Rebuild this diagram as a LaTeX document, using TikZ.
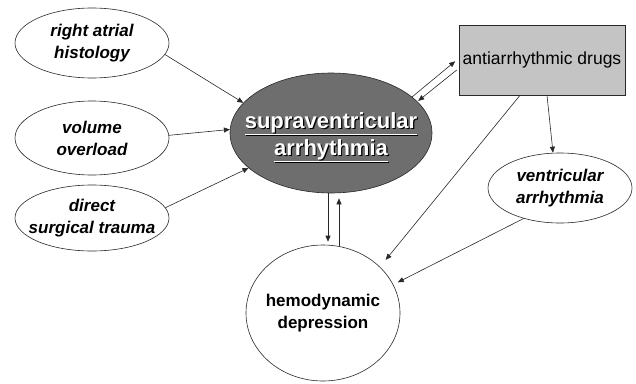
\documentclass[tikz,border=0pt]{standalone}
\usepackage{fontspec}
\setmainfont{Liberation Sans}
\usetikzlibrary{shapes.geometric,arrows.meta}
\definecolor{svfill}{RGB}{110,110,110}
\definecolor{adfill}{RGB}{196,196,196}
\definecolor{lncol}{RGB}{40,40,40}
\newcommand\svlabel{\underline{supraventricular}\\\underline{arrhythmia}}
\begin{document}
\begin{tikzpicture}[x=1pt,y=-1pt,
  oval/.style={draw=lncol, ellipse, inner sep=0pt, line width=0.6pt, fill=white},
  ovtext/.style={font=\fontsize{17}{22}\selectfont\bfseries\itshape, align=center, inner sep=0pt},
  plaintext/.style={font=\fontsize{17}{22}\selectfont\bfseries, align=center, inner sep=0pt},
  conn/.style={draw=lncol, line width=0.6pt, -{Triangle[length=6pt,width=5pt]}}]
\useasboundingbox (0,0) rectangle (636,383);
% left ellipses
\node[oval, minimum width=154pt, minimum height=70pt] (ra) at (92,43) {};
\node[ovtext] (rat) at (ra.center) {right atrial\\histology};
\node[oval, minimum width=154pt, minimum height=74pt] (vo) at (92,138) {};
\node[ovtext] (vot) at (vo.center) {volume\\overload};
\node[oval, minimum width=154pt, minimum height=66pt] (ds) at (92,218) {};
\node[ovtext] (dst) at (ds.center) {direct\\surgical trauma};
% central ellipse
\node[draw=lncol, ellipse, fill=svfill, line width=0.6pt, minimum width=202pt, minimum height=120pt, inner sep=0pt] (sv) at (331,133) {};
\node[font=\fontsize{22}{27}\selectfont\bfseries, align=center, text=black, inner sep=0pt] (svs) at (332.2,138.2) {\svlabel};
\node[font=\fontsize{22}{27}\selectfont\bfseries, align=center, text=white, inner sep=0pt] (svt) at (331,137) {\svlabel};
% drugs box
\node[draw=lncol, fill=adfill, line width=0.6pt, minimum width=166pt, minimum height=70pt, inner sep=0pt,
      font=\fontsize{17.5}{20}\selectfont] (ad) at (542,60) {antiarrhythmic drugs};
% ventricular arrhythmia
\node[oval, minimum width=144pt, minimum height=70pt] (va) at (560,188) {};
\node[ovtext] (vat) at (va.center) {ventricular\\arrhythmia};
% hemodynamic depression
\node[oval, minimum width=154pt, minimum height=136pt] (hd) at (323,313) {};
\node[plaintext] (hdt) at (hd.center) {hemodynamic\\depression};
% connectors
\draw[conn] (ra.-9) -- (sv.161);
\draw[conn] (vo.2) -- (sv.178);
\draw[conn] (ds.8) -- (sv.203);
\draw[conn, shorten >=2pt] (sv.24) -- ([xshift=-2pt]ad.west);
\draw[conn, shorten >=1pt] ([xshift=-2pt,yshift=-10pt]ad.west) -- (sv.20);
\draw[conn] ([xshift=5pt]ad.south) -- ([xshift=-7pt]va.north);
\draw[conn, shorten >=9pt] ([xshift=-22pt]ad.south) -- (hd.39);
\draw[conn, shorten >=5pt] (va.220) -- (hd.22);
\draw[conn, shorten >=3pt] ([xshift=-3pt]sv.south) -- ([xshift=5pt]hd.north);
\draw[conn, shorten >=5pt] ([xshift=16pt,yshift=-1.5pt]hd.north) -- ([xshift=8pt]sv.south);
\end{tikzpicture}
\end{document}
